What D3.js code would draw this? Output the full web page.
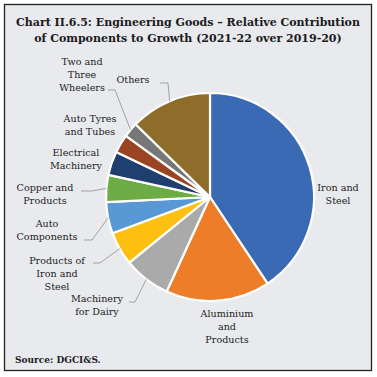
<!DOCTYPE html>
<html><head><meta charset="utf-8">
<script src="https://cdn.jsdelivr.net/npm/d3@7"></script>
<style>html,body{margin:0;padding:0;background:#fff;}svg{display:block;}</style>
</head><body>
<svg id="c" width="377" height="377"></svg>
<script>
const categories = ["Iron and Steel","Aluminium and Products","Machinery for Dairy","Products of Iron and Steel","Auto Components","Copper and Products","Electrical Machinery","Auto Tyres and Tubes","Two and Three Wheelers","Others"];
const values = [40.7,16.2,7.3,5.2,4.9,4.2,3.7,2.9,2.3,12.7];
const colors = ["#3a6ab4","#ee7d2a","#aaaaaa","#fdc010","#5899d5","#6dab45","#1f3f6e","#9b4422","#777777","#8e6c2a"];
const labelLines = [["Iron and","Steel"],["Aluminium","and","Products"],["Machinery","for Dairy"],["Products of","Iron and","Steel"],["Auto","Components"],["Copper and","Products"],["Electrical","Machinery"],["Auto Tyres","and Tubes"],["Two and","Three","Wheelers"],["Others"]];

// layout (label anchor positions and leader bends)
const layout = [
  {x:338,y:188},
  {x:227,y:314},
  {x:97,y:299, lead:[[129,302],[135,302]]},
  {x:57,y:261, lead:[[93,263],[100,263]]},
  {x:47,y:224, lead:[[84,240],[92,240]]},
  {x:45,y:188, lead:[[81,191],[92,191]]},
  {x:76,y:153},
  {x:90,y:119},
  {x:82,y:62, lead:[[108,90],[115,90]]},
  {x:133,y:80, lead:[[160,83],[168,83]]}
];

const svg = d3.select("#c");
svg.append("rect").attr("x",4.5).attr("y",4.5).attr("width",367).attr("height",366)
  .attr("fill","#e9eaee").attr("stroke","#222").attr("stroke-width",1.3);

const title = svg.append("text").attr("text-anchor","middle")
  .attr("font-family","DejaVu Serif").attr("font-weight","bold").attr("font-size",11)
  .attr("fill","#1a1a1a");
title.append("tspan").attr("x",188).attr("y",26).text("Chart II.6.5: Engineering Goods – Relative Contribution");
title.append("tspan").attr("x",188).attr("y",42).text("of Components to Growth (2021-22 over 2019-20)");

const cx=210, cy=197, R=104;
const g = svg.append("g").attr("transform",`translate(${cx},${cy})`);
const pie = d3.pie().sort(null).value(d=>d)(values);
const arc = d3.arc().innerRadius(0).outerRadius(R);
g.selectAll("path").data(pie).join("path")
  .attr("d",arc).attr("fill",(d,i)=>colors[i])
  .attr("stroke","#fff").attr("stroke-width",2.2).attr("stroke-linejoin","round");

// leaders
pie.forEach((d,i)=>{
  const L = layout[i];
  if(!L.lead) return;
  const a=(d.startAngle+d.endAngle)/2;
  const ex=cx+R*Math.sin(a), ey=cy-R*Math.cos(a);
  const pts=[...L.lead,[ex,ey]];
  svg.append("path").attr("d",d3.line()(pts)).attr("fill","none")
    .attr("stroke","#999").attr("stroke-width",0.9);
});

// labels
categories.forEach((c,i)=>{
  const L=layout[i];
  const t=svg.append("text").attr("text-anchor","middle")
    .attr("font-family","DejaVu Serif").attr("font-size",9.6).attr("fill","#222");
  labelLines[i].forEach((s,k)=>{
    t.append("tspan").attr("x",L.x).attr("y",L.y+3.4+k*12.6).text(s);
  });
});

svg.append("text").attr("x",15).attr("y",363)
  .attr("font-family","DejaVu Serif").attr("font-weight","bold").attr("font-size",9)
  .attr("fill","#222").text("Source: DGCI&S.");
</script>
</body></html>
